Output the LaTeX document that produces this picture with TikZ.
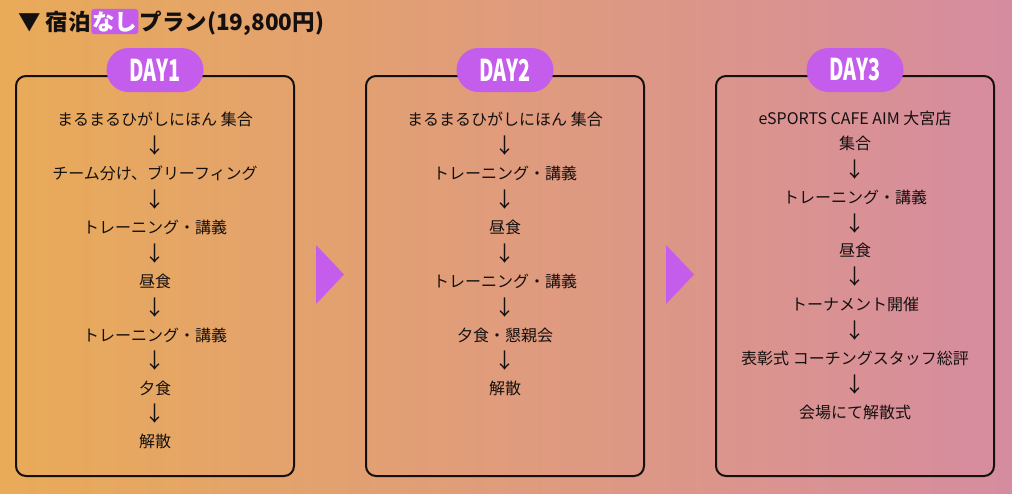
\documentclass[tikz,border=0pt]{standalone}
\usepackage{fontspec}
\setmainfont{Noto Sans CJK JP}
\usetikzlibrary{shapes.misc}
\definecolor{bgleft}{RGB}{233,171,88}
\definecolor{bgright}{RGB}{214,140,160}
\definecolor{daypurple}{RGB}{196,92,236}
\definecolor{ink}{RGB}{20,16,16}
\newcommand{\daytag}[1]{\scalebox{0.66}[1]{DAY#1}}
\tikzset{
  daybox/.style={draw=ink, line width=2pt, rounded corners=10pt, minimum width=278pt, minimum height=400pt},
  daybadge/.style={rounded rectangle, fill=daypurple, minimum width=97pt, minimum height=44pt, inner sep=0pt, text=white, font=\fontsize{30}{30}\selectfont\bfseries},
  item/.style={inner sep=0pt, text=ink, font=\fontsize{16}{18}\selectfont},
  down/.style={item, font=\fontsize{21}{22}\selectfont},
  heading/.style={inner sep=0pt, anchor=base west, text=ink, font=\fontsize{22.5}{24}\selectfont\bfseries},
  nashi/.style={heading, fill=daypurple, text=white, rounded corners=3pt, inner xsep=1pt, inner ysep=2.5pt}
}
\begin{document}
\begin{tikzpicture}[x=1pt, y=-1pt]
\useasboundingbox (0,0) rectangle (1012,493);
\shade[left color=bgleft, right color=bgright] (0,0) rectangle (1012,493);
% title
\node[heading] (ttl) at (18,30) {▼ 宿泊};
\node[nashi] (nashi) at (ttl.base east) {なし};
\node[heading] (plan) at ([xshift=1pt]nashi.base east) {プラン(19,800円)};
% boxes and badges
\node[daybox] (box1) at (155,276) {};
\node[daybox] (box2) at (505,276) {};
\node[daybox] (box3) at (855,276) {};
\node[daybadge] (day1) at ([yshift=5pt]box1.north) {\daytag{1}};
\node[daybadge] (day2) at ([yshift=5pt]box2.north) {\daytag{2}};
\node[daybadge] (day3) at ([yshift=5pt]box3.north) {\daytag{3}};
% triangles between days
\fill[daypurple] (316,245) -- (344,274.5) -- (316,304) -- cycle;
\fill[daypurple] (666,245) -- (694,274.5) -- (666,304) -- cycle;
% DAY1
\node[item] (d1a) at (155,119) {まるまるひがしにほん 集合};
\node[down] (d1b) at (155,146) {↓};
\node[item] (d1c) at (155,173) {チーム分け、ブリーフィング};
\node[down] (d1d) at (155,200) {↓};
\node[item] (d1e) at (155,227) {トレーニング・講義};
\node[down] (d1f) at (155,254) {↓};
\node[item] (d1g) at (155,281) {昼食};
\node[down] (d1h) at (155,308) {↓};
\node[item] (d1i) at (155,335) {トレーニング・講義};
\node[down] (d1j) at (155,361) {↓};
\node[item] (d1k) at (155,388) {夕食};
\node[down] (d1l) at (155,414) {↓};
\node[item] (d1m) at (155,441) {解散};
% DAY2
\node[item] (d2a) at (505,119) {まるまるひがしにほん 集合};
\node[down] (d2b) at (505,146) {↓};
\node[item] (d2c) at (505,173) {トレーニング・講義};
\node[down] (d2d) at (505,200) {↓};
\node[item] (d2e) at (505,227) {昼食};
\node[down] (d2f) at (505,254) {↓};
\node[item] (d2g) at (505,281) {トレーニング・講義};
\node[down] (d2h) at (505,308) {↓};
\node[item] (d2i) at (505,335) {夕食・懇親会};
\node[down] (d2j) at (505,361) {↓};
\node[item] (d2k) at (505,388) {解散};
% DAY3
\node[item] (d3a) at (855,118) {eSPORTS CAFE AIM 大宮店};
\node[item] (d3b) at (855,143) {集合};
\node[down] (d3c) at (855,170) {↓};
\node[item] (d3d) at (855,197) {トレーニング・講義};
\node[down] (d3e) at (855,224) {↓};
\node[item] (d3f) at (855,250) {昼食};
\node[down] (d3g) at (855,277) {↓};
\node[item] (d3h) at (855,304) {トーナメント開催};
\node[down] (d3i) at (855,331) {↓};
\node[item] (d3j) at (855,358) {表彰式 コーチングスタッフ総評};
\node[down] (d3k) at (855,385) {↓};
\node[item] (d3l) at (855,412) {会場にて解散式};
\end{tikzpicture}
\end{document}
